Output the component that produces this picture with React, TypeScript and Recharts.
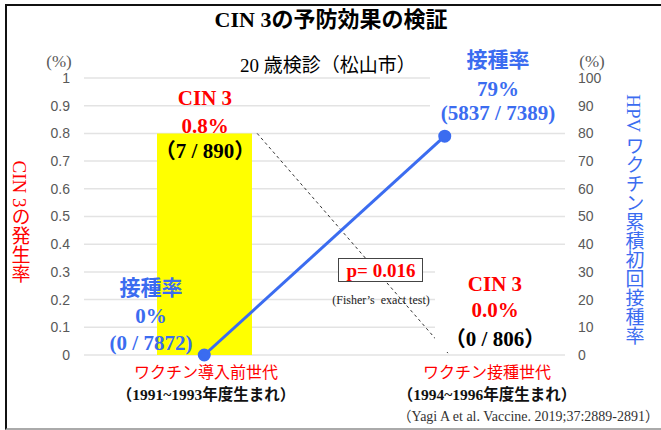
import React from "react";
import { ComposedChart, Bar, Line, XAxis, YAxis, CartesianGrid, ReferenceLine } from "recharts";

const categories = ["ワクチン導入前世代", "ワクチン接種世代"];
const birthYears = ["（1991~1993年度生まれ）", "（1994~1996年度生まれ）"];
const cin3Rate = [0.8, 0.0];
const cin3Counts = ["（7 / 890）", "（0 / 806）"];
const vaccinationRate = [0, 79];
const vaccinationCounts = ["(0 / 7872)", "(5837 / 7389)"];
const leftTicks = [0, 0.1, 0.2, 0.3, 0.4, 0.5, 0.6, 0.7, 0.8, 0.9, 1];
const rightTicks = [0, 10, 20, 30, 40, 50, 60, 70, 80, 90, 100];
// dashed connector between the two CIN 3 values (x on the 0..1 index axis)
const connectorX = [0.22, 1.02];

const BLUE = "#3b6cf0";
const RED = "#ff0000";
const SERIF = '"Liberation Serif", "Noto Sans CJK JP", serif';
const SANS = '"Liberation Sans", Arial, sans-serif';

const data = categories.map((c, i) => ({
  x: i,
  name: c,
  cin3: cin3Rate[i],
  rate: vaccinationRate[i],
}));

function Txt({ x, y, children, style }: any) {
  return (
    <div
      style={{
        position: "absolute",
        left: x,
        top: y,
        transform: "translate(-50%, -50%)",
        whiteSpace: "nowrap",
        lineHeight: 1,
        fontFamily: SERIF,
        ...style,
      }}
    >
      {children}
    </div>
  );
}

function Box({ left, top, width, height, style }: any) {
  return <div style={{ position: "absolute", left, top, width, height, background: "#fff", ...style }} />;
}

export default function App() {
  const bold = { fontWeight: 700, fontSize: 21 };
  return (
    <div style={{ position: "absolute", left: 0, top: 0, width: 661, height: 430, background: "#fff", overflow: "hidden" }}>
      <ComposedChart width={661} height={430} data={data} margin={{ top: 78, right: 56, bottom: 75, left: 44 }}>
        <CartesianGrid yAxisId="left" vertical={false} stroke="#e3e3e3" strokeWidth={1.5} />
        <XAxis dataKey="x" type="number" domain={[-0.5, 1.5]} hide />
        <YAxis
          yAxisId="left"
          width={40}
          domain={[0, 1]}
          ticks={leftTicks}
          tickLine={false}
          axisLine={false}
          tickMargin={8}
          tick={{ fill: "#595959", fontSize: 14, fontFamily: SANS }}
        />
        <YAxis
          yAxisId="right"
          orientation="right"
          width={40}
          domain={[0, 100]}
          ticks={rightTicks}
          tickLine={false}
          axisLine={false}
          tickMargin={7}
          tick={{ fill: "#595959", fontSize: 14, fontFamily: SANS, textAnchor: "start" }}
        />
        <Bar yAxisId="left" dataKey="cin3" fill="#ffff00" barSize={95} isAnimationActive={false} />
        <ReferenceLine
          yAxisId="left"
          segment={[
            { x: connectorX[0], y: cin3Rate[0] },
            { x: connectorX[1], y: cin3Rate[1] },
          ]}
          stroke="#333"
          strokeDasharray="3 3"
          ifOverflow="visible"
        />
        <Line
          yAxisId="right"
          dataKey="rate"
          stroke={BLUE}
          strokeWidth={3}
          dot={{ r: 5, fill: BLUE, stroke: BLUE }}
          isAnimationActive={false}
        />
      </ComposedChart>

      {/* frame */}
      <div
        style={{
          position: "absolute",
          left: 5,
          top: 4,
          width: 660,
          height: 422,
          borderTop: "2px solid #111",
          borderLeft: "2px solid #111",
          borderBottom: "2px solid #aaa",
        }}
      />

      <Txt x={331} y={20} style={{ fontSize: 22, fontWeight: 700 }}>CIN 3の予防効果の検証</Txt>
      <Txt x={328} y={65} style={{ fontSize: 19 }}>20 歳検診（松山市）</Txt>
      <Txt x={59} y={61} style={{ fontSize: 17, color: "#595959" }}>(%)</Txt>
      <Txt x={592} y={61} style={{ fontSize: 17, color: "#595959" }}>(%)</Txt>

      {/* axis titles */}
      <Txt x={19} y={222} style={{ fontSize: 19, color: RED, writingMode: "vertical-rl" }}>CIN 3の発生率</Txt>
      <Txt x={633} y={220} style={{ fontSize: 19, color: BLUE, writingMode: "vertical-rl" }}>HPV ワクチン累積初回接種率</Txt>

      {/* pre-vaccine CIN 3 */}
      <Txt x={205} y={98} style={{ ...bold, color: RED }}>CIN 3</Txt>
      <Txt x={205} y={126} style={{ ...bold, color: RED }}>{cin3Rate[0].toFixed(1)}%</Txt>
      <Txt x={205} y={151} style={{ ...bold, color: "#000" }}>{cin3Counts[0]}</Txt>

      {/* vaccinated vaccination rate */}
      <Box left={430} top={43} width={135} height={82} />
      <Txt x={498} y={60} style={{ ...bold, color: BLUE }}>接種率</Txt>
      <Txt x={498} y={89} style={{ ...bold, color: BLUE }}>{vaccinationRate[1]}%</Txt>
      <Txt x={498} y={113} style={{ ...bold, color: BLUE }}>{vaccinationCounts[1]}</Txt>

      {/* pre-vaccine vaccination rate */}
      <Txt x={151} y={288} style={{ ...bold, color: BLUE }}>接種率</Txt>
      <Txt x={151} y={316} style={{ ...bold, color: BLUE }}>{vaccinationRate[0]}%</Txt>
      <Txt x={151} y={343} style={{ ...bold, color: BLUE }}>{vaccinationCounts[0]}</Txt>

      {/* p value */}
      <div
        style={{
          position: "absolute",
          left: 338,
          top: 258,
          width: 83,
          height: 22,
          background: "#fff",
          border: "1.5px solid #444",
        }}
      />
      <Txt x={381} y={270} style={{ fontSize: 19, fontWeight: 700, color: RED }}>p= 0.016</Txt>
      <Txt x={381} y={300} style={{ fontSize: 12, color: "#222" }}>(Fisher’s&nbsp; exact test)</Txt>

      {/* vaccinated CIN 3 */}
      <Box left={435} top={264} width={130} height={88} />
      <Txt x={495} y={284} style={{ ...bold, color: RED }}>CIN 3</Txt>
      <Txt x={495} y={310} style={{ ...bold, color: RED }}>{cin3Rate[1].toFixed(1)}%</Txt>
      <Txt x={495} y={339} style={{ ...bold, color: "#000" }}>{cin3Counts[1]}</Txt>

      {/* category labels */}
      {categories.map((c, i) => (
        <React.Fragment key={c}>
          <Txt x={i === 0 ? 206 : 487} y={373} style={{ fontSize: 16, color: RED }}>{c}</Txt>
          <Txt x={i === 0 ? 206 : 487} y={395} style={{ fontSize: 15.5, fontWeight: 700, color: "#111" }}>{birthYears[i]}</Txt>
        </React.Fragment>
      ))}

      <div
        style={{
          position: "absolute",
          right: 2,
          top: 410,
          whiteSpace: "nowrap",
          lineHeight: 1,
          fontFamily: SERIF,
          fontSize: 14,
          color: "#333",
        }}
      >
        （Yagi A et al. Vaccine. 2019;37:2889-2891）
      </div>
    </div>
  );
}
